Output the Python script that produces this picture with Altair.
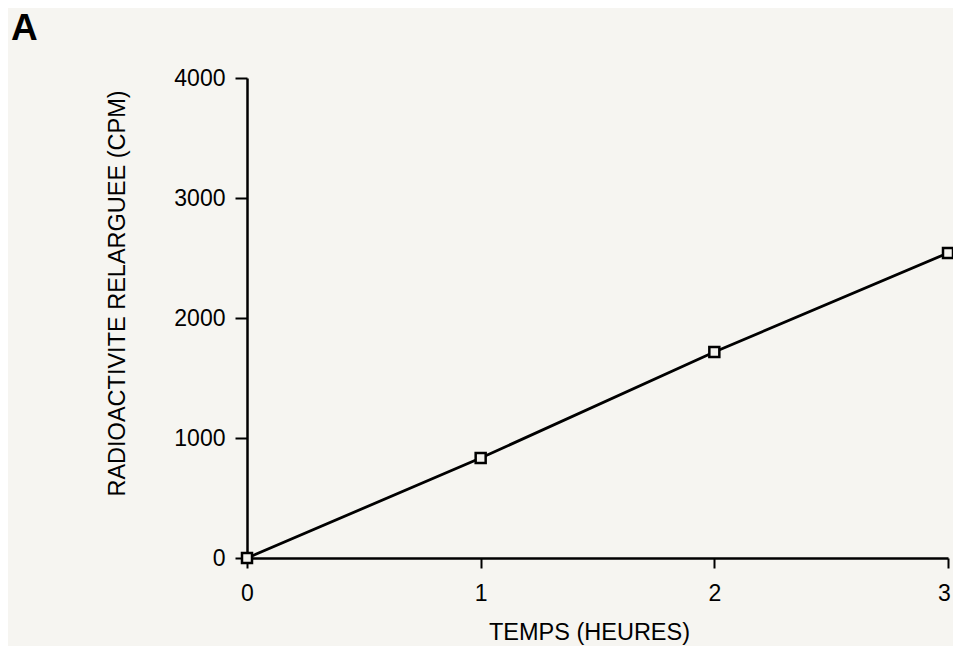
import altair as alt
import pandas as pd

hours = [0, 1, 2, 3]
cpm = [0, 833, 1717, 2542]
panel_label = ["A"]

df = pd.DataFrame({"h": hours, "cpm": cpm})
lab = pd.DataFrame({"t": panel_label})

FONT = "Liberation Sans"

x = alt.X("h:Q", scale=alt.Scale(domain=[0, 3], nice=False, zero=True),
          axis=alt.Axis(title="TEMPS (HEURES)", values=[0, 1, 2, 3], format="d",
                        grid=False, domainColor="black", domainWidth=2.5,
                        tickColor="black", tickWidth=2, tickSize=10,
                        labelPadding=14, labelFontSize=23, labelColor="black",
                        labelFlush=False,
                        labelOffset={"condition": {"test": "datum.value === 3", "value": -4},
                                     "value": 0},
                        labelFont=FONT, titleFont=FONT, titleFontSize=23.5,
                        titleFontWeight="normal", titleColor="black",
                        titleX=342, titleY=81, titleAnchor="middle",
                        titleAlign="center", titleBaseline="alphabetic"))
y = alt.Y("cpm:Q", scale=alt.Scale(domain=[0, 4000], nice=False),
          axis=alt.Axis(title="RADIOACTIVITE RELARGUEE (CPM)", values=[0, 1000, 2000, 3000, 4000],
                        format="d", grid=False, domainColor="black", domainWidth=2.5,
                        tickColor="black", tickWidth=2, tickSize=12,
                        labelPadding=10, labelFontSize=23, labelColor="black",
                        labelFont=FONT, titleFont=FONT, titleFontSize=23.5,
                        titleFontWeight="normal", titleColor="black",
                        titleX=-123, titleY=215, titleAngle=-90,
                        titleAlign="center", titleBaseline="alphabetic"))

base = alt.Chart(df)
line = base.mark_line(color="black", strokeWidth=2.8).encode(x=x, y=y)
pts = base.mark_point(shape="square", filled=False, color="black", size=100,
                      strokeWidth=2.5, fill="#f4f3ef", fillOpacity=1).encode(x=x, y=y)
letter = alt.Chart(lab).mark_text(
    fontSize=37, fontWeight="bold", font=FONT, color="black",
    align="left", baseline="alphabetic"
).encode(x=alt.value(-236), y=alt.value(-38), text="t:N")

chart = (line + pts + letter).properties(
    width=701, height=480,
    background="#f6f5f1",
    padding={"left": 239, "top": 70, "right": 5, "bottom": 88},
    autosize=alt.AutoSizeParams(type="none"),
).configure_view(stroke=None)

chart.save("out.html", embed_options={"renderer": "svg", "actions": False})
